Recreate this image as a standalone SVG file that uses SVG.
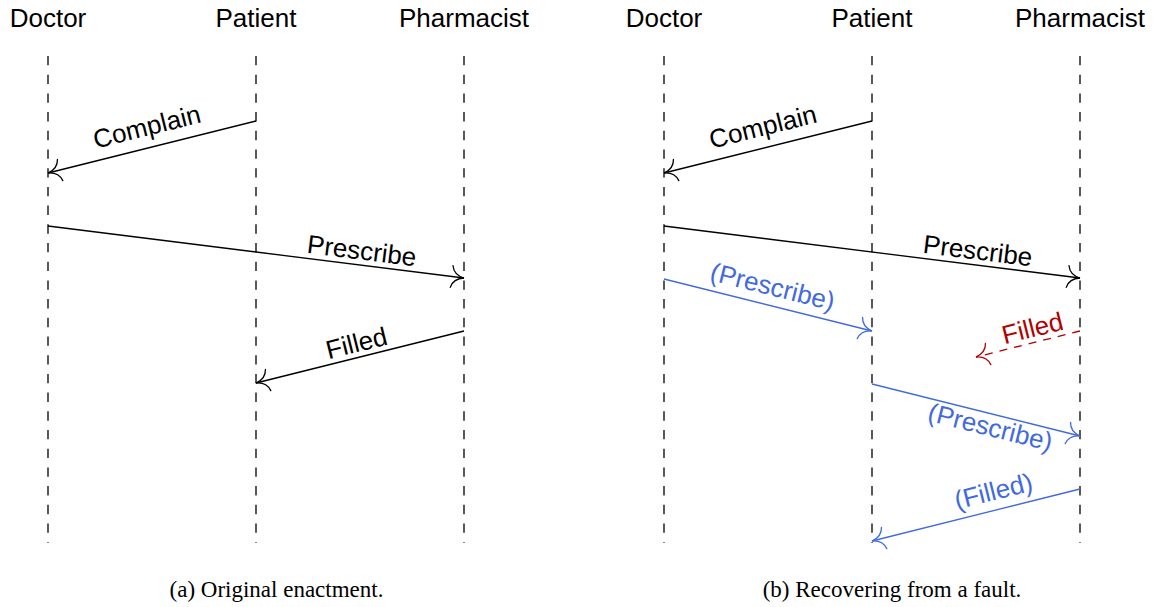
<svg xmlns="http://www.w3.org/2000/svg" width="1157" height="607" viewBox="0 0 1157 607">
<style>
  .hdr { font-family: "Liberation Sans", Arial, sans-serif; font-size: 26px; fill: #000; text-anchor: middle; }
  .lbl { font-family: "Liberation Sans", Arial, sans-serif; font-size: 26px; text-anchor: middle; }
  .cap { font-family: "Liberation Serif", "Times New Roman", serif; font-size: 23px; fill: #000; text-anchor: middle; }
  .life { stroke: #000; stroke-width: 1.3; stroke-dasharray: 9.35 9.35; fill: none; }
  .msg { stroke: #000; stroke-width: 1.3; fill: none; marker-end: url(#tipK); }
  .msgB { stroke: #4169e1; stroke-width: 1.3; fill: none; marker-end: url(#tipB); }
  .msgR { stroke: #b30000; stroke-width: 1.3; fill: none; stroke-dasharray: 8 7; marker-end: url(#tipR); }
  .k { fill: #000; }
  .b { fill: #4169e1; }
  .r { fill: #b30000; }
</style>
<defs>
  <marker id="tipK" markerUnits="userSpaceOnUse" viewBox="-14 -13 16 26" refX="0" refY="0" markerWidth="16" markerHeight="26" orient="auto" overflow="visible">
    <path d="M -12.5,-11 C -11,-4 -5,-0.8 0,0 C -5,0.8 -11,4 -12.5,11" fill="none" stroke="#000" stroke-width="1.3" stroke-linecap="round"/>
  </marker>
  <marker id="tipB" markerUnits="userSpaceOnUse" viewBox="-14 -13 16 26" refX="0" refY="0" markerWidth="16" markerHeight="26" orient="auto" overflow="visible">
    <path d="M -12.5,-11 C -11,-4 -5,-0.8 0,0 C -5,0.8 -11,4 -12.5,11" fill="none" stroke="#4169e1" stroke-width="1.3" stroke-linecap="round"/>
  </marker>
  <marker id="tipR" markerUnits="userSpaceOnUse" viewBox="-14 -13 16 26" refX="0" refY="0" markerWidth="16" markerHeight="26" orient="auto" overflow="visible">
    <path d="M -12.5,-11 C -11,-4 -5,-0.8 0,0 C -5,0.8 -11,4 -12.5,11" fill="none" stroke="#b30000" stroke-width="1.3" stroke-linecap="round"/>
  </marker>
</defs>

<!-- (a) Original enactment -->
<g id="a-doctor">
  <text class="hdr" x="48" y="27">Doctor</text>
  <line class="life" x1="48" y1="56" x2="48" y2="543"/>
</g>
<g id="a-patient">
  <text class="hdr" x="256" y="27">Patient</text>
  <line class="life" x1="256" y1="56" x2="256" y2="543"/>
</g>
<g id="a-pharmacist">
  <text class="hdr" x="464" y="27">Pharmacist</text>
  <line class="life" x1="464" y1="56" x2="464" y2="543"/>
</g>

<!-- (b) Recovering from a fault -->
<g id="b-doctor">
  <text class="hdr" x="664" y="27">Doctor</text>
  <line class="life" x1="664" y1="56" x2="664" y2="543"/>
</g>
<g id="b-patient">
  <text class="hdr" x="872" y="27">Patient</text>
  <line class="life" x1="872" y1="56" x2="872" y2="543"/>
</g>
<g id="b-pharmacist">
  <text class="hdr" x="1080" y="27">Pharmacist</text>
  <line class="life" x1="1080" y1="56" x2="1080" y2="543"/>
</g>

<g id="connectors">
  <!-- (a) -->
  <line class="msg" x1="256" y1="121" x2="48" y2="173"/>
  <text class="lbl k" transform="translate(152,147) rotate(-14.036)" x="0" y="-12">Complain</text>

  <line class="msg" x1="48" y1="226" x2="464" y2="278"/>
  <text class="lbl k" transform="translate(360,265) rotate(7.125)" x="0" y="-5.5">Prescribe</text>

  <line class="msg" x1="464" y1="331" x2="256" y2="383"/>
  <text class="lbl k" transform="translate(360,357) rotate(-14.036)" x="0" y="-5.5">Filled</text>

  <!-- (b) -->
  <line class="msg" x1="872" y1="121" x2="664" y2="173"/>
  <text class="lbl k" transform="translate(768,147) rotate(-14.036)" x="0" y="-12">Complain</text>

  <line class="msg" x1="664" y1="226" x2="1080" y2="278"/>
  <text class="lbl k" transform="translate(976,265) rotate(7.125)" x="0" y="-5.5">Prescribe</text>

  <line class="msgB" x1="664" y1="279" x2="872" y2="331"/>
  <text class="lbl b" transform="translate(768,305) rotate(14.036)" x="0" y="-10">(Prescribe)</text>

  <line class="msgR" x1="1080" y1="331" x2="976" y2="357"/>
  <text class="lbl r" transform="translate(1036,342) rotate(-14.036)" x="0" y="-5.5">Filled</text>

  <line class="msgB" x1="872" y1="384" x2="1080" y2="436"/>
  <text class="lbl b" transform="translate(993.6,414.4) rotate(14.036)" x="0" y="22">(Prescribe)</text>

  <line class="msgB" x1="1080" y1="489" x2="872" y2="541"/>
  <text class="lbl b" transform="translate(998,509.5) rotate(-14.036)" x="0" y="-10">(Filled)</text>
</g>

<text class="cap" x="276.5" y="597">(a) Original enactment.</text>
<text class="cap" x="892" y="597">(b) Recovering from a fault.</text>
</svg>
